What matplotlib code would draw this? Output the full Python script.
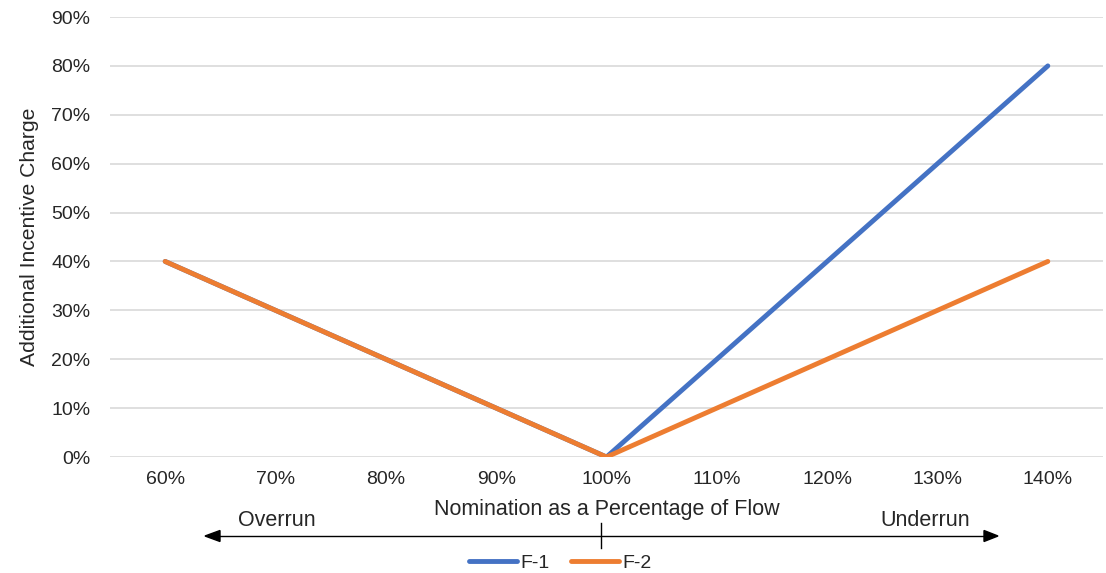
import matplotlib.pyplot as plt
import numpy as np

plt.rcParams['font.family'] = ['Liberation Sans', 'DejaVu Sans']

# Nomination as a percentage of flow, and the incentive charge for each rate
categories = ["60%", "70%", "80%", "90%", "100%", "110%", "120%", "130%", "140%"]
f1 = [0.40, 0.30, 0.20, 0.10, 0.00, 0.20, 0.40, 0.60, 0.80]
f2 = [0.40, 0.30, 0.20, 0.10, 0.00, 0.10, 0.20, 0.30, 0.40]
y_ticks = [0.0, 0.1, 0.2, 0.3, 0.4, 0.5, 0.6, 0.7, 0.8, 0.9]

W, H = 1106, 573
text_color = "#262626"

fig = plt.figure(figsize=(W / 100, H / 100), dpi=100)
ax = fig.add_axes([110 / W, 1 - 457 / H, 993 / W, 440 / H])

x = np.arange(len(categories))
ax.plot(x, f1, color="#4472C4", lw=3.5, label="F-1", solid_capstyle="round")
ax.plot(x, f2, color="#ED7D31", lw=3.5, label="F-2", solid_capstyle="round")

ax.set_xlim(-0.5, len(categories) - 0.5)
ax.set_ylim(0, 0.9)
ax.set_xticks(x)
ax.set_xticklabels(categories)
ax.set_yticks(y_ticks)
ax.set_yticklabels([f"{int(round(v * 100))}%" for v in y_ticks])
ax.tick_params(length=0, labelsize=14, colors=text_color)
ax.tick_params(axis="x", pad=10)
ax.tick_params(axis="y", pad=14)
for s in ax.spines.values():
    s.set_visible(False)
ax.grid(axis="y", color="#D9D9D9", lw=1.2)
ax.set_axisbelow(True)

ax.set_ylabel("Additional Incentive Charge", fontsize=15.2, color=text_color, va="center")
ax.yaxis.set_label_coords((30 - 110) / 993, 0.5)

# x-axis caption with the overrun / underrun arrow underneath
fig.text(607 / W, 1 - 510 / H, "Nomination as a Percentage of Flow",
         ha="center", va="center", fontsize=15.5, color=text_color)
fig.text(277 / W, 1 - 521 / H, "Overrun", ha="center", va="center",
         fontsize=15.5, color=text_color)
fig.text(925 / W, 1 - 521 / H, "Underrun", ha="center", va="center",
         fontsize=15.5, color=text_color)

ay = 1 - 536 / H
fig.add_artist(plt.Line2D([210 / W, 992 / W], [ay, ay], color="black", lw=1))
fig.patches.append(plt.Polygon([[205 / W, ay], [220 / W, ay + 5.5 / H], [220 / W, ay - 5.5 / H]],
                               closed=True, color="black", transform=fig.transFigure))
fig.patches.append(plt.Polygon([[998 / W, ay], [984 / W, ay + 5.5 / H], [984 / W, ay - 5.5 / H]],
                               closed=True, color="black", transform=fig.transFigure))
fig.add_artist(plt.Line2D([601 / W, 601 / W], [1 - 523 / H, 1 - 548 / H],
                          color="black", lw=1))

fig.legend(loc="center", bbox_to_anchor=(560 / W, 1 - 563 / H), ncol=2,
           frameon=False, fontsize=14, handlelength=2.5, handletextpad=0.15,
           columnspacing=1.1, labelcolor=text_color)

fig.savefig("out.png", dpi=100)
